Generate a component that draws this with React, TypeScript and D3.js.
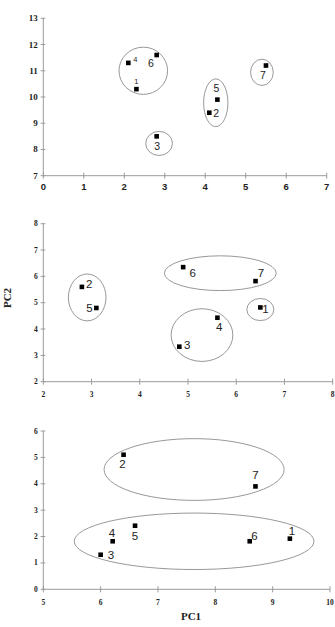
import React from "react";
import * as d3 from "d3";

// ---------- data ----------
const ids = ["1", "2", "3", "4", "5", "6", "7"];

// Panel A
const aX = [2.3, 4.1, 2.8, 2.1, 4.3, 2.8, 5.5];
const aY = [10.3, 9.4, 8.5, 11.3, 9.9, 11.6, 11.2];
const aXTicks = [0, 1, 2, 3, 4, 5, 6, 7];
const aYTicks = [7, 8, 9, 10, 11, 12, 13];
// ellipses: [cx, cy, rx, ry] in data units
const aGroups = [
  [2.47, 11.0, 0.6, 0.9],
  [4.26, 9.78, 0.3, 0.91],
  [2.86, 8.23, 0.33, 0.46],
  [5.4, 10.94, 0.28, 0.5],
];

// Panel B
const bX = [6.5, 2.8, 4.82, 5.61, 3.1, 4.9, 6.4];
const bY = [4.82, 5.6, 3.33, 4.43, 4.8, 6.35, 5.82];
const bXTicks = [2, 3, 4, 5, 6, 7, 8];
const bYTicks = [2, 3, 4, 5, 6, 7, 8];
const bGroups = [
  [2.91, 5.2, 0.39, 0.89],
  [5.67, 6.12, 1.16, 0.66],
  [6.5, 4.74, 0.28, 0.42],
  [5.29, 3.77, 0.64, 1.0],
];

// Panel C
const cX = [9.3, 6.4, 6.0, 6.21, 6.6, 8.6, 8.7];
const cY = [1.92, 5.1, 1.31, 1.82, 2.41, 1.82, 3.9];
const cXTicks = [5, 6, 7, 8, 9, 10];
const cYTicks = [0, 1, 2, 3, 4, 5, 6];
const cGroups = [
  [7.63, 4.54, 1.57, 1.17],
  [7.63, 1.82, 2.09, 1.07],
];

const xLabel = "PC1";
const yLabel = "PC2";

// ---------- label placement (pixel offsets, font size) ----------
const aLabelStyle = [
  [0, -7.5, 7.5],
  [7, 0.5, 10.5],
  [0.6, 9.4, 10.5],
  [7, -3, 7.5],
  [-1, -12, 10.5],
  [-5.7, 7.7, 10.5],
  [-3, 9, 10.5],
];
const bLabelStyle = [
  [5, 2, 11.5],
  [7.4, -2.6, 11.5],
  [8, -2, 11.5],
  [1.7, 9.3, 11.5],
  [-7, 0, 11.5],
  [9.5, 6, 11.5],
  [5.4, -7.7, 11.5],
];
const cLabelStyle = [
  [2, -7.3, 11.5],
  [-1, 9.3, 11.5],
  [10.3, 0, 11.5],
  [-0.7, -8.7, 11.5],
  [0, 10.3, 11.5],
  [4.7, -5.3, 11.5],
  [0, -11, 11.5],
];

const AXIS = "#9a9a9a";
const ELL = "#8c8c8c";
const SERIF = "'Liberation Serif', 'DejaVu Serif', serif";
const SANS = "'Liberation Sans', Arial, sans-serif";

type PanelProps = {
  xs: number[];
  ys: number[];
  groups: number[][];
  labelStyle: number[][];
  xTicks: number[];
  yTicks: number[];
  xRange: [number, number];
  yRange: [number, number];
  xTickFont: string;
  xTickSize: number;
  xTickY: number;
  yTickFont: string;
  yTickSize: number;
};

function Panel(p: PanelProps) {
  const x = d3
    .scaleLinear()
    .domain([p.xTicks[0], p.xTicks[p.xTicks.length - 1]])
    .range(p.xRange);
  const y = d3
    .scaleLinear()
    .domain([p.yTicks[0], p.yTicks[p.yTicks.length - 1]])
    .range(p.yRange);
  const x0 = p.xRange[0];
  const y0 = p.yRange[0];
  const sq = 4.6;
  return (
    <g>
      <line x1={x0} x2={p.xRange[1]} y1={y0} y2={y0} stroke={AXIS} strokeWidth={1} />
      <line x1={x0} x2={x0} y1={y0} y2={p.yRange[1]} stroke={AXIS} strokeWidth={1} />
      {p.xTicks.map((t) => (
        <g key={"xt" + t}>
          <line x1={x(t)} x2={x(t)} y1={y0 - 3} y2={y0 + 3} stroke={AXIS} />
          <text
            x={x(t)}
            y={p.xTickY}
            textAnchor="middle"
            dominantBaseline="central"
            fontFamily={p.xTickFont}
            fontWeight="bold"
            fontSize={p.xTickSize}
            fill="#222"
          >
            {t}
          </text>
        </g>
      ))}
      {p.yTicks.map((t) => (
        <g key={"yt" + t}>
          <line x1={x0 - 2.7} x2={x0 + 2} y1={y(t)} y2={y(t)} stroke={AXIS} />
          <text
            x={x0 - 5.5}
            y={y(t)}
            textAnchor="end"
            dominantBaseline="central"
            fontFamily={p.yTickFont}
            fontWeight="bold"
            fontSize={p.yTickSize}
            fill="#222"
          >
            {t}
          </text>
        </g>
      ))}
      {p.groups.map((g, i) => (
        <ellipse
          key={"e" + i}
          cx={x(g[0])}
          cy={y(g[1])}
          rx={Math.abs(x(g[0] + g[2]) - x(g[0]))}
          ry={Math.abs(y(g[1] + g[3]) - y(g[1]))}
          fill="none"
          stroke={ELL}
          strokeWidth={0.9}
        />
      ))}
      {p.xs.map((v, i) => (
        <g key={"p" + i}>
          <rect x={x(v) - sq / 2} y={y(p.ys[i]) - sq / 2} width={sq} height={sq} fill="#000" />
          <text
            x={x(v) + p.labelStyle[i][0]}
            y={y(p.ys[i]) + p.labelStyle[i][1]}
            textAnchor="middle"
            dominantBaseline="central"
            fontFamily={SANS}
            fontSize={p.labelStyle[i][2]}
            fill="#222"
          >
            {ids[i]}
          </text>
        </g>
      ))}
    </g>
  );
}

export default function App() {
  return (
    <svg
      width={335}
      height={627}
      style={{ position: "absolute", left: 0, top: 0, background: "#fff" }}
    >
      <Panel
        xs={aX}
        ys={aY}
        groups={aGroups}
        labelStyle={aLabelStyle}
        xTicks={aXTicks}
        yTicks={aYTicks}
        xRange={[43.3, 326.7]}
        yRange={[175.7, 18.3]}
        xTickFont={SANS}
        xTickSize={9.5}
        xTickY={186.7}
        yTickFont={SERIF}
        yTickSize={9}
      />
      <Panel
        xs={bX}
        ys={bY}
        groups={bGroups}
        labelStyle={bLabelStyle}
        xTicks={bXTicks}
        yTicks={bYTicks}
        xRange={[43.3, 332.7]}
        yRange={[381.7, 223.7]}
        xTickFont={SERIF}
        xTickSize={7.5}
        xTickY={394.7}
        yTickFont={SERIF}
        yTickSize={7.5}
      />
      <Panel
        xs={cX}
        ys={cY}
        groups={cGroups}
        labelStyle={cLabelStyle}
        xTicks={cXTicks}
        yTicks={cYTicks}
        xRange={[43.3, 330]}
        yRange={[589.3, 431]}
        xTickFont={SERIF}
        xTickSize={7.5}
        xTickY={602.7}
        yTickFont={SERIF}
        yTickSize={7.5}
      />
      <text
        x={191}
        y={616}
        textAnchor="middle"
        dominantBaseline="central"
        fontFamily={SERIF}
        fontWeight="bold"
        fontSize={11}
        fill="#222"
      >
        {xLabel}
      </text>
      <text
        transform="translate(6.5,298) rotate(-90)"
        textAnchor="middle"
        dominantBaseline="central"
        fontFamily={SERIF}
        fontWeight="bold"
        fontSize={11}
        fill="#222"
      >
        {yLabel}
      </text>
    </svg>
  );
}
